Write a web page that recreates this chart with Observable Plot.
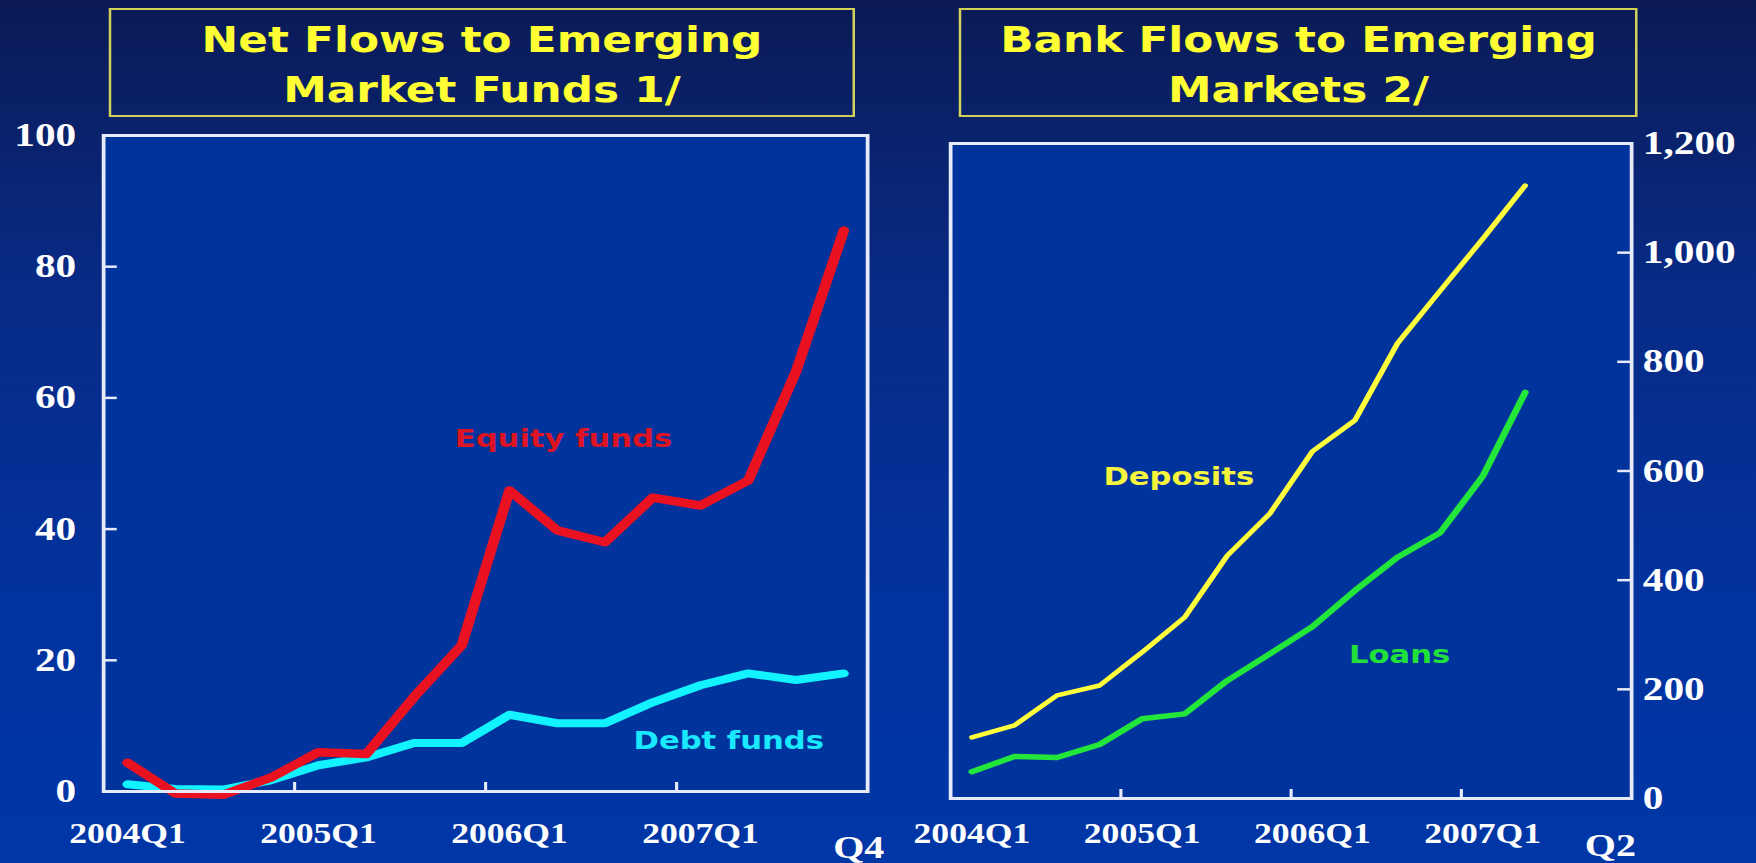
<!DOCTYPE html>
<html>
<head>
<meta charset="utf-8">
<script src="https://cdn.jsdelivr.net/npm/d3@7"></script>
<script src="https://cdn.jsdelivr.net/npm/@observablehq/plot@0.6"></script>
<style>
  html, body { margin: 0; padding: 0; }
  body {
    width: 1756px; height: 863px; overflow: hidden; position: relative;
    background: linear-gradient(to bottom, #0b1a55 0%, #082a84 32%, #0233a0 72%, #0036a6 100%);
  }
  /* the slide is laid out on a narrower stage and widened horizontally */
  #stage { position: absolute; left: 0; top: 0; width: 1404.8px; height: 863px;
           transform: scaleX(1.25); transform-origin: 0 0; }
  .title { position: absolute; top: 8px; height: 109px; box-sizing: border-box;
           border: 2px solid #d2d25a; color: #ffff33; text-align: center;
           font: bold 35px "DejaVu Sans", Verdana, sans-serif; line-height: 50px; padding-top: 5px; }
  .panel { position: absolute; top: 0; height: 863px; }
</style>
</head>
<body>
<div id="stage">
  <div class="title" style="left:87.2px;width:596.8px">Net Flows to Emerging<br>Market Funds 1/</div>
  <div class="title" style="left:767.2px;width:543.2px">Bank Flows to Emerging<br>Markets 2/</div>
  <div id="funds" class="panel" style="left:0;width:703px"></div>
  <div id="banks" class="panel" style="left:720px;width:684.8px"></div>
</div>
<script>
// Quarterly categories shared by both panels
const quarters = ["2004Q1","2004Q2","2004Q3","2004Q4","2005Q1","2005Q2","2005Q3","2005Q4",
                  "2006Q1","2006Q2","2006Q3","2006Q4","2007Q1","2007Q2","2007Q3","2007Q4"];

// Net flows to emerging market funds (2004Q1–2007Q4)
const equityFunds = [4.4, -0.3, -0.5, 2.1, 6.0, 5.7, 14.4, 22.3, 45.9, 39.8, 38.0, 44.8, 43.6, 47.4, 64.0, 85.5];
const debtFunds   = [1.1, 0.4, 0.3, 1.7, 4.0, 5.2, 7.4, 7.4, 11.7, 10.4, 10.4, 13.6, 16.2, 18.0, 17.0, 18.0];

// Bank flows to emerging markets (2004Q1–2007Q2)
const deposits = [112, 134, 189, 207, 268, 332, 445, 522, 636, 693, 834, 930, 1025, 1123];
const loans    = [49, 77, 75, 99, 146, 155, 216, 265, 315, 381, 442, 487, 590, 744];

// Axis tick values
const fundTicks = [0, 20, 40, 60, 80, 100];
const bankTicks = [0, 200, 400, 600, 800, 1000, 1200];

const fundRows = quarters.map((q, i) => ({i, q, equity: equityFunds[i], debt: debtFunds[i]}));
const bankRows = deposits.map((d, i) => ({i, q: quarters[i], deposits: d, loans: loans[i]}));

// Year starts get labels; ticks sit on the boundary between Q4 and the next Q1
const yearStarts = quarters.map((q, i) => i).filter(i => quarters[i].endsWith("Q1"));
const yearBreaks = yearStarts.slice(1).map(i => i - 0.5);
const lastSlot = quarters.length - 1;

const H = 863;
const plotFill = "#00339c";
const frameColor = "#e6eafa";
const serif = "'Liberation Serif', 'Times New Roman', serif";
const sans = "'DejaVu Sans', Verdana, sans-serif";
const svgStyle = {background: "transparent", color: "white", overflow: "visible"};
const xDomain = [-0.5, quarters.length - 0.5];

const tickText = {fontFamily: serif, fontWeight: "bold", fill: "white"};
const noteText = {fontFamily: sans, fontWeight: "bold", fontSize: 24.5};

// Left panel: net flows to emerging market funds
{
  const width = 703, m = {l: 82.4, r: 9.4, t: 135, b: 72};
  const fw = width - m.l - m.r, fh = H - m.t - m.b;
  const chart = Plot.plot({
    width, height: H,
    marginLeft: m.l, marginRight: m.r, marginTop: m.t, marginBottom: m.b,
    style: svgStyle,
    x: {type: "linear", domain: xDomain, label: null},
    y: {domain: [0, 100], label: null},
    marks: [
      Plot.frame({fill: plotFill}),
      Plot.axisX({ticks: yearStarts, tickFormat: i => quarters[i], tickSize: 0, tickPadding: 31, fontSize: 28.5, label: null, ...tickText}),
      Plot.axisX({ticks: [lastSlot], tickFormat: i => quarters[i].slice(4), tickSize: 0, tickPadding: 44, dx: 12, fontSize: 32, label: null, ...tickText}),
      Plot.axisY({ticks: fundTicks, tickSize: 0, tickPadding: 22, fontSize: 33, label: null, ...tickText}),
      Plot.tickX(yearBreaks, {x: d => d, stroke: frameColor, strokeWidth: 2.5, insetTop: fh - 9}),
      Plot.tickY(fundTicks.slice(1, -1), {y: d => d, stroke: frameColor, strokeWidth: 2.5, insetRight: fw - 11}),
      Plot.line(fundRows, {x: "i", y: "debt", stroke: "#12f2ff", strokeWidth: 8, strokeLinejoin: "round", strokeLinecap: "round"}),
      Plot.line(fundRows, {x: "i", y: "equity", stroke: "#ea1220", strokeWidth: 8.5, strokeLinejoin: "round", strokeLinecap: "round"}),
      Plot.text(["Equity funds"], {x: () => 9.13, y: () => 53.7, text: d => d, fill: "#dc1424", ...noteText}),
      Plot.text(["Debt funds"], {x: () => 12.59, y: () => 7.6, text: d => d, fill: "#1ae8ff", ...noteText}),
      Plot.frame({stroke: frameColor, strokeWidth: 3})
    ]
  });
  document.getElementById("funds").append(chart);
}

// Right panel: bank flows to emerging markets
{
  const width = 684.8, m = {l: 40, r: 100, t: 143, b: 65};
  const fw = width - m.l - m.r, fh = H - m.t - m.b;
  const chart = Plot.plot({
    width, height: H,
    marginLeft: m.l, marginRight: m.r, marginTop: m.t, marginBottom: m.b,
    style: svgStyle,
    x: {type: "linear", domain: xDomain, label: null},
    y: {domain: [0, 1200], label: null},
    marks: [
      Plot.frame({fill: plotFill}),
      Plot.axisX({ticks: yearStarts, tickFormat: i => quarters[i], tickSize: 0, tickPadding: 24, fontSize: 28.5, label: null, ...tickText}),
      Plot.axisX({ticks: [lastSlot], tickFormat: () => quarters[deposits.length - 1].slice(4), tickSize: 0, tickPadding: 35, fontSize: 32, label: null, ...tickText}),
      Plot.axisY({anchor: "right", ticks: bankTicks, tickFormat: d3.format(","), tickSize: 0, tickPadding: 9, fontSize: 33, label: null, ...tickText}),
      Plot.tickX(yearBreaks, {x: d => d, stroke: frameColor, strokeWidth: 2.5, insetTop: fh - 9}),
      Plot.tickY(bankTicks.slice(1, -1), {y: d => d, stroke: frameColor, strokeWidth: 2.5, insetLeft: fw - 11}),
      Plot.line(bankRows, {x: "i", y: "loans", stroke: "#22e63a", strokeWidth: 5.5, strokeLinejoin: "round", strokeLinecap: "round"}),
      Plot.line(bankRows, {x: "i", y: "deposits", stroke: "#ffff3c", strokeWidth: 4.5, strokeLinejoin: "round", strokeLinecap: "round"}),
      Plot.text(["Deposits"], {x: () => 4.86, y: () => 588, text: d => d, fill: "#f6f43c", ...noteText}),
      Plot.text(["Loans"], {x: () => 10.05, y: () => 262, text: d => d, fill: "#22e03a", ...noteText}),
      Plot.frame({stroke: frameColor, strokeWidth: 3})
    ]
  });
  document.getElementById("banks").append(chart);
}
</script>
</body>
</html>
